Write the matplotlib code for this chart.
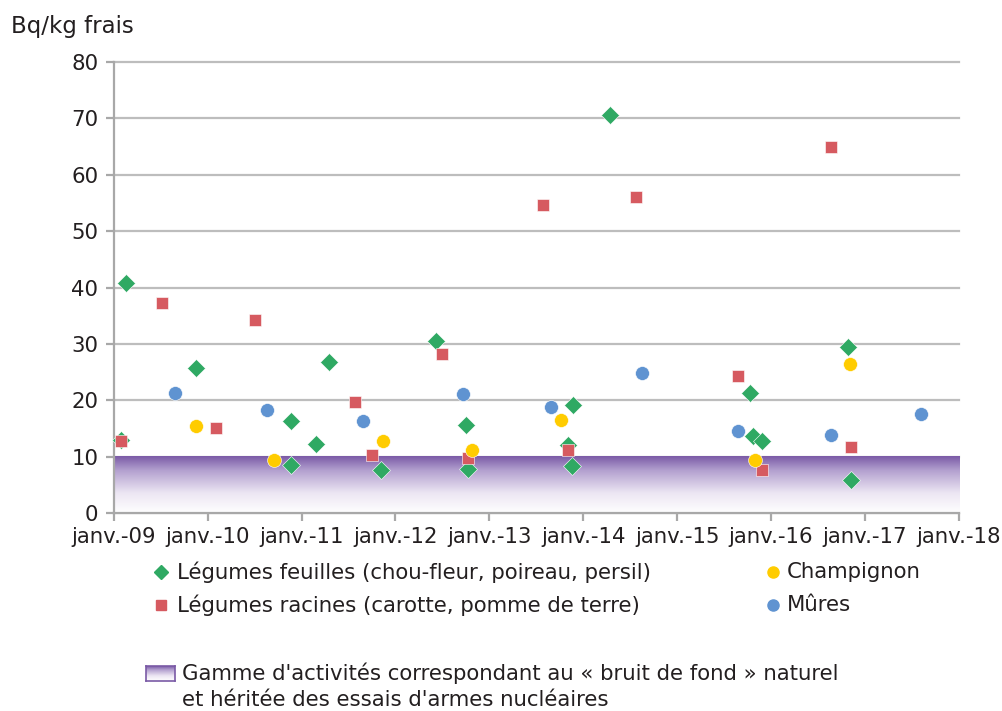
import numpy as np
import matplotlib
matplotlib.use("Agg")
import matplotlib.pyplot as plt
from matplotlib.lines import Line2D
from matplotlib.colors import LinearSegmentedColormap

plt.rcParams['font.family'] = ['DejaVu Sans']

# ---- data (decimal years, Bq/kg frais) ----
feuilles_x = [2009.128, 2009.075, 2009.876, 2010.888, 2010.891, 2011.158, 2011.296,
              2011.843, 2012.429, 2012.749, 2012.773, 2013.841, 2013.895, 2013.878,
              2014.285, 2015.773, 2015.805, 2015.904, 2016.823, 2016.852]
feuilles_y = [40.9, 13.0, 25.7, 16.4, 8.5, 12.2, 26.9,
              7.6, 30.5, 15.7, 7.9, 12.1, 19.2, 8.4,
              70.5, 21.3, 13.7, 12.8, 29.5, 5.9]

racines_x = [2009.075, 2009.511, 2010.089, 2010.505, 2011.570, 2011.751, 2012.496,
             2012.770, 2013.575, 2013.841, 2014.562, 2015.645, 2015.904, 2016.639,
             2016.849]
racines_y = [12.8, 37.3, 15.1, 34.2, 19.8, 10.3, 28.3,
             9.8, 54.6, 11.2, 56.1, 24.4, 7.7, 65.0,
             11.8]

champ_x = [2009.880, 2010.707, 2011.871, 2012.813, 2013.760, 2015.833, 2016.842]
champ_y = [15.5, 9.4, 12.9, 11.2, 16.5, 9.5, 26.5]

mures_x = [2009.650, 2010.629, 2011.658, 2012.717, 2013.654, 2014.626, 2015.645,
           2016.636, 2017.597]
mures_y = [21.3, 18.4, 16.4, 21.2, 18.8, 24.9, 14.6, 13.9, 17.6]

years = list(range(2009, 2019))
year_labels = ["janv.-%02d" % (y % 100) for y in years]
y_ticks = [0, 10, 20, 30, 40, 50, 60, 70, 80]
band_low, band_high = 0, 10

labels = ["Légumes feuilles (chou-fleur, poireau, persil)",
          "Légumes racines (carotte, pomme de terre)",
          "Champignon", "Mûres"]
band_label = "Gamme d'activités correspondant au « bruit de fond » naturel\net héritée des essais d'armes nucléaires"

# ---- style ----
GREEN = "#2fa963"
RED = "#d65a60"
YELLOW = "#ffcc00"
BLUE = "#5f93d1"
PURPLE = "#7a5aa6"
GRID = "#bdbdbd"
TXT = "#231f20"
FS = 15.3

fig = plt.figure(figsize=(10.03, 7.11), dpi=100)
ax = fig.add_axes([0.1134, 0.278, 0.8426, 0.635])

# gradient band
cmap = LinearSegmentedColormap.from_list(
    "band", [(0.0, "#ffffff"), (0.35, "#ece6f3"), (0.75, "#b3a0cf"), (1.0, PURPLE)])
grad = np.linspace(0, 1, 256).reshape(-1, 1)
ax.imshow(grad, aspect="auto", cmap=cmap, origin="lower",
          extent=[years[0], years[-1], band_low, band_high], zorder=1,
          interpolation="bicubic")

ax.set_xlim(years[0], years[-1])
ax.set_ylim(0, 80)
ax.set_xticks(years)
ax.set_xticklabels(year_labels)
ax.set_yticks(y_ticks)
ax.yaxis.grid(True, color=GRID, linewidth=1.6, zorder=0)
for gl in ax.get_ygridlines():
    gl.set_clip_on(False)
ax.set_axisbelow(True)
for s in ["top", "right"]:
    ax.spines[s].set_visible(False)
for s in ["left", "bottom"]:
    ax.spines[s].set_color("#a8a8a8")
    ax.spines[s].set_linewidth(1.6)
    ax.spines[s].set_zorder(3)
ax.tick_params(axis="both", colors="#a8a8a8", width=1.6, length=6,
               labelcolor=TXT, labelsize=FS)
ax.tick_params(axis="x", pad=4)
ax.tick_params(axis="y", pad=5)

ms_d, ms_s, ms_c = 9.5, 8.0, 10.0
ax.plot(feuilles_x, feuilles_y, ls="none", marker="D", ms=ms_d, color=GREEN,
        mec="white", mew=0.4, zorder=4, clip_on=False)
ax.plot(racines_x, racines_y, ls="none", marker="s", ms=ms_s, color=RED,
        mec="white", mew=0.4, zorder=5, clip_on=False)
ax.plot(champ_x, champ_y, ls="none", marker="o", ms=ms_c, color=YELLOW,
        mec="white", mew=0.4, zorder=6, clip_on=False)
ax.plot(mures_x, mures_y, ls="none", marker="o", ms=ms_c, color=BLUE,
        mec="white", mew=0.4, zorder=6, clip_on=False)

fig.text(11 / 1003, 1 - 27 / 711, "Bq/kg frais", fontsize=16.5, color=TXT,
         va="center", ha="left")

# ---- legend (manual) ----
W, H = 1003, 711
def fx(px):
    return px / W
def fy(py):
    return 1 - py / H

items = [
    (161, 572, "D", 7.5, GREEN, 177, labels[0]),
    (161, 605, "s", 7.0, RED, 177, labels[1]),
    (773, 572, "o", 8.0, YELLOW, 787, labels[2]),
    (773, 605, "o", 8.0, BLUE, 787, labels[3]),
]
for mx, my, mk, ms, col, tx, lab in items:
    fig.add_artist(Line2D([fx(mx)], [fy(my)], ls="none", marker=mk, ms=ms,
                          color=col, transform=fig.transFigure))
    fig.text(fx(tx), fy(my), lab, fontsize=FS, color=TXT, va="center", ha="left")

# legend gradient swatch
lax = fig.add_axes([fx(146), fy(681), fx(175) - fx(146), fy(666) - fy(681)])
lax.imshow(grad, aspect="auto", cmap=cmap, origin="lower", extent=[0, 1, 0, 1])
lax.set_xticks([])
lax.set_yticks([])
for s in lax.spines.values():
    s.set_color(PURPLE)
    s.set_linewidth(1.2)

fig.text(fx(182), fy(673), band_label.split("\n")[0], fontsize=FS, color=TXT,
         va="center", ha="left")
fig.text(fx(182), fy(700), band_label.split("\n")[1], fontsize=FS, color=TXT,
         va="center", ha="left")

fig.savefig("out.png", dpi=100)
